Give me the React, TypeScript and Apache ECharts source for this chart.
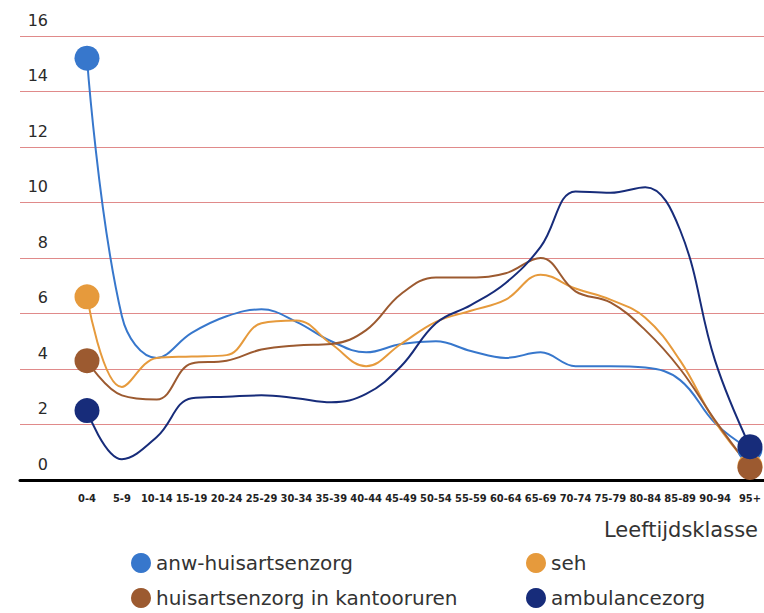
import React, { useEffect, useRef } from "react";
import * as echarts from "echarts";

const categories = ["0-4","5-9","10-14","15-19","20-24","25-29","30-34","35-39","40-44","45-49","50-54","55-59","60-64","65-69","70-74","75-79","80-84","85-89","90-94","95+"];
const yTicks = [0, 2, 4, 6, 8, 10, 12, 14, 16];
const anw = [15.2,5.9,4.4,5.3,5.9,6.15,5.7,5.0,4.6,4.9,5.0,4.65,4.4,4.6,4.1,4.1,4.05,3.6,2.05,1.1];
const seh = [6.6,3.35,4.4,4.45,4.5,5.65,5.75,4.9,4.1,4.9,5.7,6.1,6.5,7.4,6.9,6.5,5.85,4.3,2.1,0.5];
const kantoor = [4.3,3.05,2.9,4.2,4.3,4.7,4.85,4.9,5.4,6.7,7.3,7.3,7.45,8.0,6.8,6.4,5.4,4.0,2.15,0.45];
const ambulance = [2.5,0.75,1.55,2.95,3.0,3.05,2.95,2.8,3.1,4.1,5.65,6.3,7.1,8.4,10.4,10.35,10.55,9.0,4.3,1.2];

const seriesDefs = [
  { name: "anw-huisartsenzorg", data: anw, color: "#3777cc" },
  { name: "seh", data: seh, color: "#e69a3c" },
  { name: "huisartsenzorg in kantooruren", data: kantoor, color: "#9c5a30" },
  { name: "ambulancezorg", data: ambulance, color: "#172c7a" },
];

// legend slots: [seriesIndex, left, top]
const legendSlots: [number, number, number][] = [
  [0, 126, 548],
  [2, 126, 583],
  [1, 521, 548],
  [3, 521, 583],
];

export default function App() {
  const ref = useRef<HTMLDivElement>(null);
  useEffect(() => {
    if (!ref.current) return;
    const chart = echarts.init(ref.current, null, { renderer: "svg" });
    const last = categories.length - 1;
    const font = "DejaVu Sans";
    chart.setOption({
      animation: false,
      backgroundColor: "#ffffff",
      textStyle: { fontFamily: font },
      grid: [
        { left: 20, right: 0, top: 36, bottom: 133 },
        { left: 87, right: 8, top: 36, bottom: 133 },
      ],
      xAxis: [
        {
          gridIndex: 0, type: "category", data: categories, boundaryGap: false,
          axisLine: { show: true, lineStyle: { color: "#000", width: 3 } },
          axisTick: { show: false }, axisLabel: { show: false }, splitLine: { show: false },
        },
        {
          gridIndex: 1, type: "category", data: categories, boundaryGap: false,
          axisLine: { show: false }, axisTick: { show: false }, splitLine: { show: false },
          axisLabel: {
            interval: 0, margin: 13, color: "#222",
            fontFamily: "'DejaVu Sans Condensed', 'Liberation Sans Narrow', Roboto, sans-serif",
            fontSize: 11, fontWeight: "bold",
          },
        },
      ],
      yAxis: [
        {
          gridIndex: 0, type: "value", min: yTicks[0], max: yTicks[yTicks.length - 1], interval: 2,
          axisLine: { show: false }, axisTick: { show: false },
          splitLine: { show: true, lineStyle: { color: "#e08a8a", width: 1 } },
          axisLabel: {
            inside: true, margin: 28, align: "right", verticalAlign: "bottom",
            lineHeight: 32, color: "#2a2a2a", fontSize: 16, fontFamily: font,
          },
        },
        {
          gridIndex: 1, type: "value", min: yTicks[0], max: yTicks[yTicks.length - 1], interval: 2,
          show: false, splitLine: { show: false },
        },
      ],
      legend: legendSlots.map(([si, left, top]) => ({
        data: [seriesDefs[si].name],
        left, top,
        icon: "circle", itemWidth: 20, itemHeight: 20,
        textStyle: { fontSize: 20, color: "#333", fontFamily: font },
      })),
      graphic: [
        {
          type: "text", right: 6, top: 519,
          style: { text: "Leeftijdsklasse", fontSize: 21, fill: "#333", fontFamily: font },
        },
      ],
      series: seriesDefs.map((s) => ({
        name: s.name,
        type: "line",
        xAxisIndex: 1,
        yAxisIndex: 1,
        data: s.data,
        smooth: 0.4,
        symbol: "circle",
        symbolSize: (_v: any, p: any) => (p.dataIndex === 0 || p.dataIndex === last ? 25 : 0),
        showAllSymbol: true,
        color: s.color,
        lineStyle: { color: s.color, width: 2 },
        itemStyle: { color: s.color },
        emphasis: { disabled: true },
      })),
    });
    return () => chart.dispose();
  }, []);
  return (
    <div
      ref={ref}
      style={{ position: "fixed", left: 0, top: 0, width: 764, height: 613 }}
    />
  );
}
